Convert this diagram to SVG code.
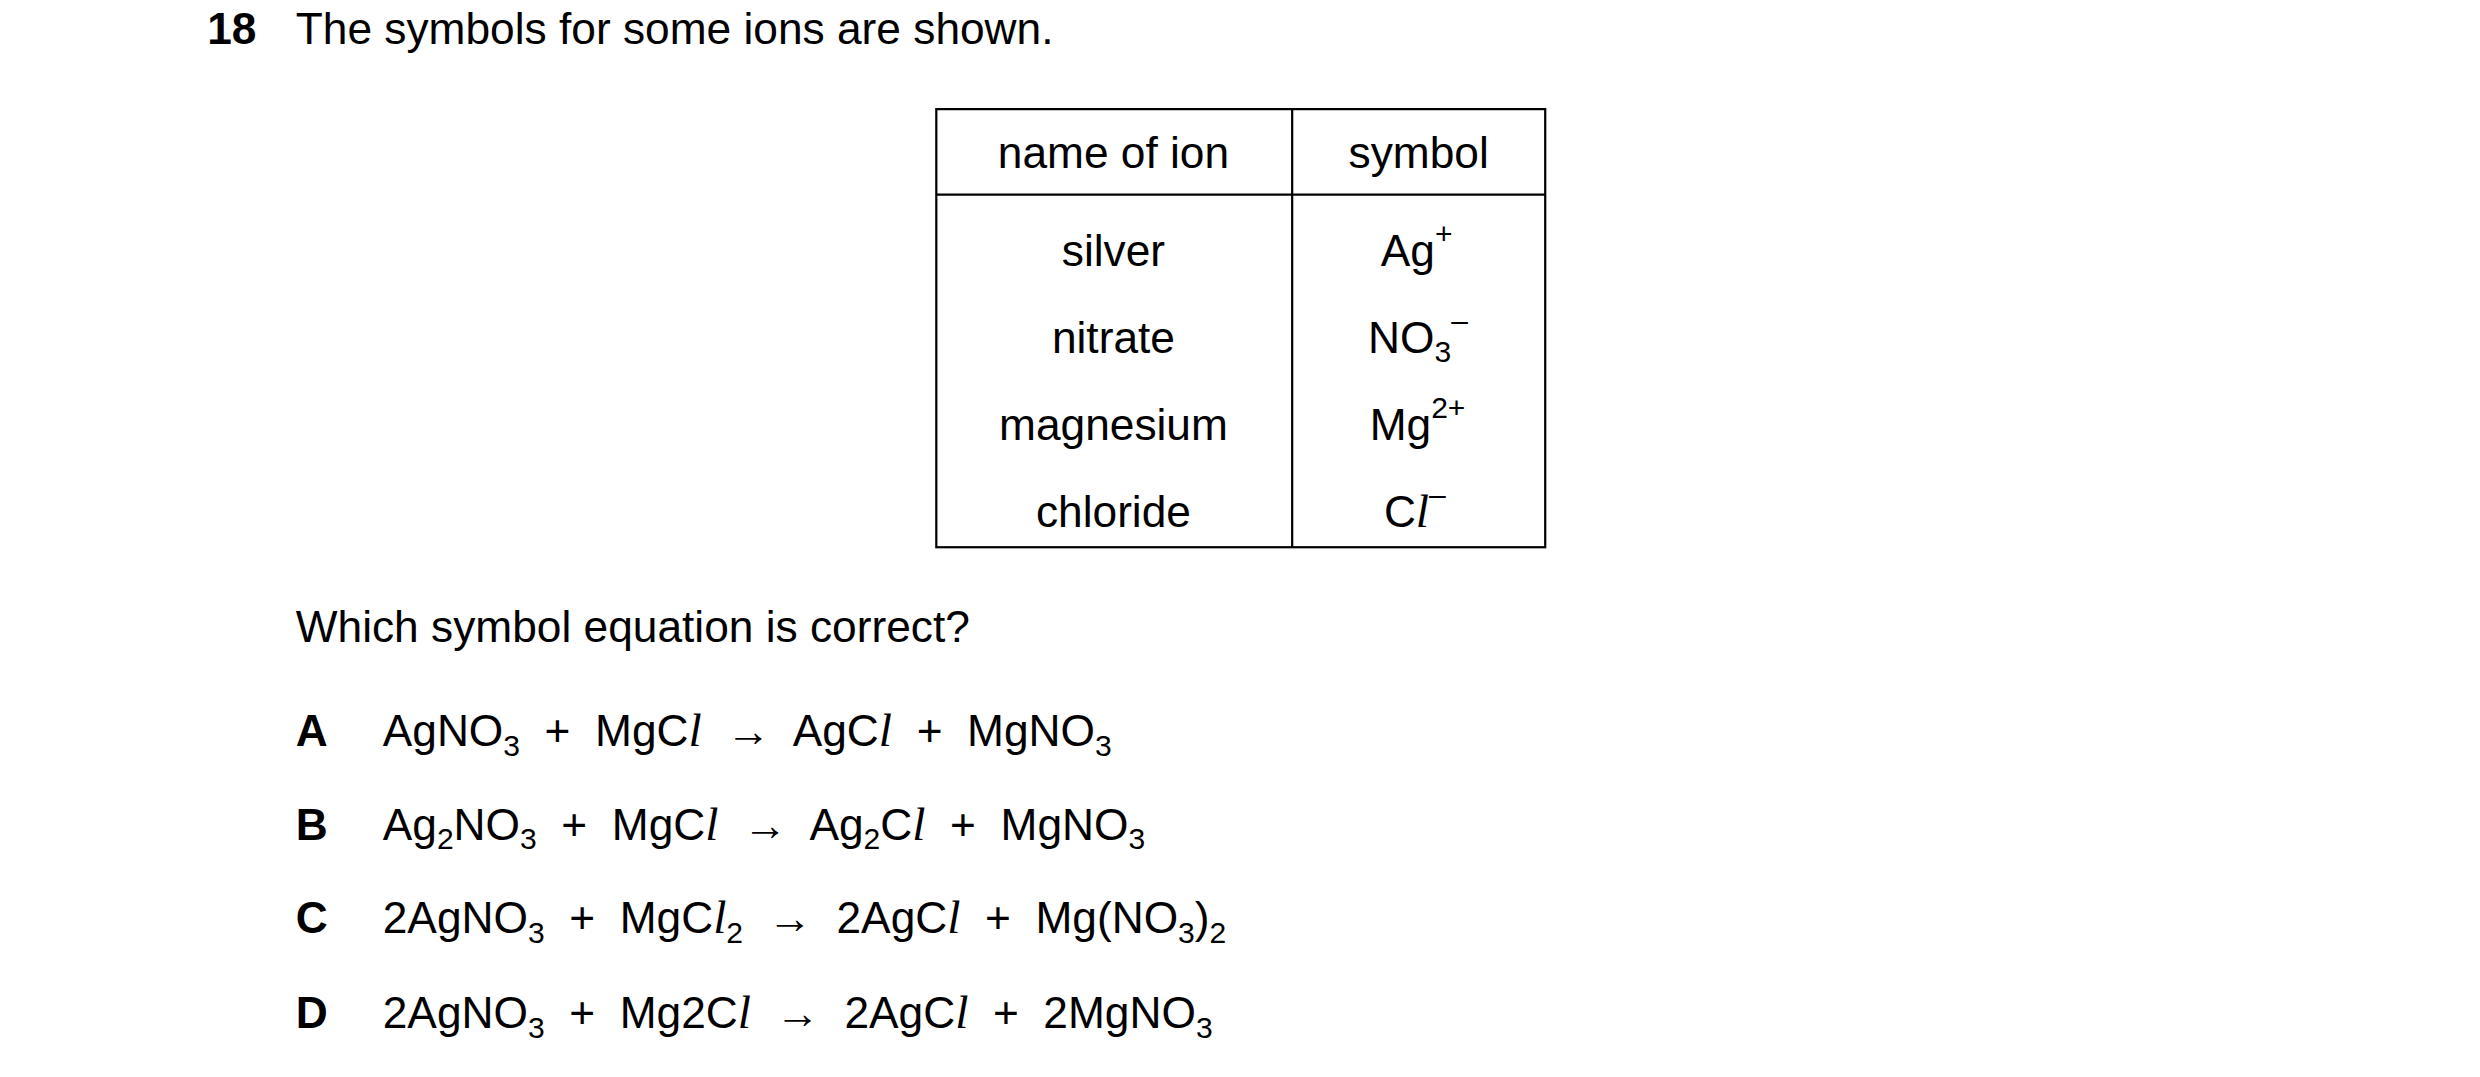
<svg xmlns="http://www.w3.org/2000/svg" width="2480" height="1077" viewBox="0 0 2480 1077">
<style>
text{font-family:"Liberation Sans",Arial,sans-serif;font-size:28px;fill:#000}
.b{font-weight:bold}
.c{text-anchor:middle}
.i{font-family:"Liberation Serif","Times New Roman",serif;font-style:italic;font-size:30px}
.s{font-size:19px}
line,rect{stroke:#000;stroke-width:1.4;fill:none}
</style>
<rect width="2480" height="1077" fill="#fff" style="stroke:none"/>
<g transform="scale(1.5816)">
<g id="question">
<text x="131" y="28" class="b">18</text>
<text x="187" y="28">The symbols for some ions are shown.</text>
</g>
<g id="table">
<rect x="592" y="69" width="385" height="277"/>
<line x1="817" y1="69" x2="817" y2="346"/>
<line x1="592" y1="123" x2="977" y2="123"/>
<text x="704" y="106" class="c">name of ion</text>
<text x="897" y="106" class="c">symbol</text>
<text x="704" y="168" class="c">silver</text>
<text x="704" y="223" class="c">nitrate</text>
<text x="704" y="278" class="c">magnesium</text>
<text x="704" y="333" class="c">chloride</text>
<text x="873" y="168">Ag<tspan class="s" dy="-14">+</tspan></text>
<text x="865" y="223">NO<tspan class="s" dy="6">3</tspan><tspan class="s" dy="-20">–</tspan></text>
<text x="866" y="278">Mg<tspan class="s" dy="-14">2+</tspan></text>
<text x="875" y="333">C<tspan class="i">l</tspan><tspan class="s" dy="-14">–</tspan></text>
</g>
<g id="options">
<text x="187" y="406">Which symbol equation is correct?</text>
<text x="187" y="472" class="b">A</text>
<text x="242" y="472" xml:space="preserve">AgNO<tspan class="s" dy="6">3</tspan><tspan dy="-6">  +  MgC</tspan><tspan class="i">l</tspan><tspan>  →  AgC</tspan><tspan class="i">l</tspan><tspan>  +  MgNO</tspan><tspan class="s" dy="6">3</tspan></text>
<text x="187" y="531" class="b">B</text>
<text x="242" y="531" xml:space="preserve">Ag<tspan class="s" dy="6">2</tspan><tspan dy="-6">NO</tspan><tspan class="s" dy="6">3</tspan><tspan dy="-6">  +  MgC</tspan><tspan class="i">l</tspan><tspan>  →  Ag</tspan><tspan class="s" dy="6">2</tspan><tspan dy="-6">C</tspan><tspan class="i">l</tspan><tspan>  +  MgNO</tspan><tspan class="s" dy="6">3</tspan></text>
<text x="187" y="590" class="b">C</text>
<text x="242" y="590" xml:space="preserve">2AgNO<tspan class="s" dy="6">3</tspan><tspan dy="-6">  +  MgC</tspan><tspan class="i">l</tspan><tspan class="s" dy="6">2</tspan><tspan dy="-6">  →  2AgC</tspan><tspan class="i">l</tspan><tspan>  +  Mg(NO</tspan><tspan class="s" dy="6">3</tspan><tspan dy="-6">)</tspan><tspan class="s" dy="6">2</tspan></text>
<text x="187" y="650" class="b">D</text>
<text x="242" y="650" xml:space="preserve">2AgNO<tspan class="s" dy="6">3</tspan><tspan dy="-6">  +  Mg2C</tspan><tspan class="i">l</tspan><tspan>  →  2AgC</tspan><tspan class="i">l</tspan><tspan>  +  2MgNO</tspan><tspan class="s" dy="6">3</tspan></text>
</g>
</g>
</svg>
